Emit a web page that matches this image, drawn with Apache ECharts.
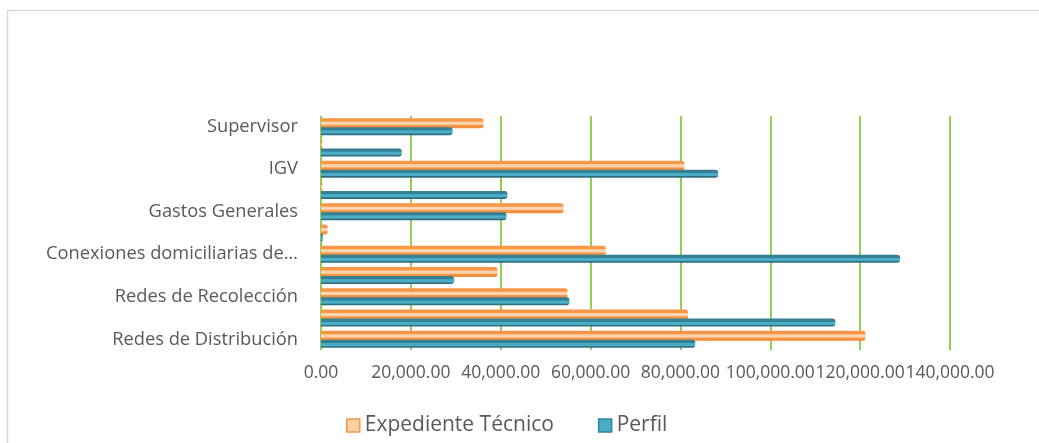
<!DOCTYPE html>
<html>
<head>
<meta charset="utf-8">
<script src="https://cdn.jsdelivr.net/npm/echarts@6/dist/echarts.min.js"></script>
<style>
  html, body { margin: 0; padding: 0; background: #fff; }
  #chart { width: 1039px; height: 443px; }
</style>
</head>
<body>
<div id="chart"></div>
<script>
var chart = echarts.init(document.getElementById('chart'));

// partidas, de abajo hacia arriba
var categorias = [
    'Redes de Distribución',
    'Reservorio y Línea de Conducción',
    'Redes de Recolección',
    'Conexiones domiciliarias de agua',
    'Conexiones domiciliarias de desagüe',
    'Mitigación Ambiental',
    'Gastos Generales',
    'Utilidad',
    'IGV',
    'Expediente Técnico',
    'Supervisor'
];
var expedienteTecnico = [121200, 81700, 54900, 39300, 63400, 1500, 54000, 300, 80900, 300, 36200];
var perfil = [83300, 114500, 55300, 29600, 128900, 400, 41300, 41500, 88400, 18000, 29300];
var ticksX = [0, 20000, 40000, 60000, 80000, 100000, 120000, 140000];

function fmt(v) {
    var s = Math.round(v).toString().replace(/\B(?=(\d{3})+(?!\d))/g, ',');
    return s + '.00';
}

// recorta nombres largos como en Excel
function recorta(v) {
    return v.length > 30 ? v.slice(0, 27) + '…' : v;
}

var grad = function (stops) {
    return new echarts.graphic.LinearGradient(0, 0, 0, 1, stops);
};

var option = {
    backgroundColor: '#fff',
    textStyle: { fontFamily: 'Open Sans' },
    graphic: [{
        type: 'rect',
        shape: { x: 7.5, y: 10.5, width: 1100, height: 500 },
        style: { fill: 'none', stroke: '#d9d9d9', lineWidth: 1.5 },
        silent: true
    }],
    legend: {
        bottom: 2,
        left: 341,
        itemWidth: 13,
        itemHeight: 13,
        itemGap: 44,
        icon: 'rect',
        textStyle: { color: '#595959', fontSize: 21, fontFamily: 'Open Sans' },
        data: [
            { name: 'Expediente Técnico', itemStyle: { color: '#fbd0a8', borderColor: '#f79646', borderWidth: 1.5 } },
            { name: 'Perfil', itemStyle: { color: '#4bacc6', borderColor: '#31849b', borderWidth: 1.5 } }
        ]
    },
    grid: { left: 321, right: 89, top: 116, bottom: 93 },
    xAxis: {
        type: 'value',
        min: ticksX[0],
        max: ticksX[ticksX.length - 1],
        interval: 20000,
        axisLine: { show: false },
        axisTick: { show: false },
        axisLabel: {
            color: '#595959',
            fontSize: 17.5,
            margin: 14,
            formatter: fmt
        },
        splitLine: { lineStyle: { color: '#92d050', width: 2 } }
    },
    yAxis: {
        type: 'category',
        data: categorias,
        axisLine: { show: false },
        axisTick: { show: false },
        axisLabel: {
            interval: 1,
            color: '#595959',
            fontSize: 18.3,
            margin: 23,
            formatter: recorta
        }
    },
    series: [
        {
            name: 'Expediente Técnico',
            type: 'bar',
            data: expedienteTecnico,
            barWidth: 10,
            barGap: '-10%',
            itemStyle: {
                color: grad([
                    { offset: 0, color: '#f79646' },
                    { offset: 0.3, color: '#f79646' },
                    { offset: 0.4, color: '#fcd5b0' },
                    { offset: 0.62, color: '#fcd5b0' },
                    { offset: 0.72, color: '#f79646' },
                    { offset: 1, color: '#f08a38' }
                ]),
                borderRadius: [0, 3, 3, 0]
            }
        },
        {
            name: 'Perfil',
            type: 'bar',
            data: perfil,
            barWidth: 8,
            itemStyle: {
                color: grad([
                    { offset: 0, color: '#347f92' },
                    { offset: 0.35, color: '#347f92' },
                    { offset: 0.45, color: '#4bacc6' },
                    { offset: 0.75, color: '#4bacc6' },
                    { offset: 0.85, color: '#2c6f80' },
                    { offset: 1, color: '#2c6f80' }
                ]),
                borderRadius: [0, 3, 3, 0]
            }
        }
    ]
};

chart.setOption(option);
</script>
</body>
</html>
